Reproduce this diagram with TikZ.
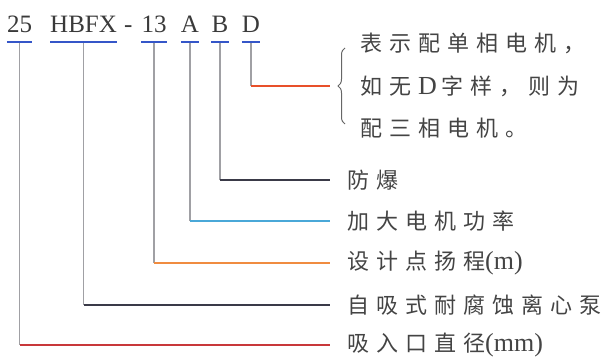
\documentclass[tikz,border=0pt]{standalone}
\usepackage{fontspec}
\setmainfont{Liberation Serif}
\newfontfamily\cjk{Noto Sans CJK SC}
\usetikzlibrary{decorations.pathreplacing}
\makeatletter
\newcommand\spc[1]{\spc@first#1\relax}
\def\spc@first#1{#1\spc@loop}
\def\spc@loop#1{\ifx\relax#1\else\hspace{7pt}#1\expandafter\spc@loop\fi}
\makeatother
\definecolor{codegray}{HTML}{3A3A3A}
\definecolor{txtgray}{HTML}{444444}
\definecolor{linegray}{HTML}{A0A0A4}
\definecolor{ublue}{HTML}{3556C8}
\definecolor{cred}{HTML}{C8383A}
\definecolor{cdark}{HTML}{3A3A48}
\definecolor{corange}{HTML}{F08C40}
\definecolor{cblue}{HTML}{4AA8D8}
\definecolor{cD}{HTML}{E8502A}
\definecolor{bracegray}{HTML}{666666}
\tikzset{
  code/.style={font=\fontsize{25}{25}\selectfont, text=codegray, inner sep=0pt, anchor=base},
  lab/.style={font=\cjk\fontsize{22}{22}\selectfont, text=txtgray, inner sep=0pt, anchor=west},
  latin/.style={font=\rmfamily\fontsize{26}{26}\selectfont},
  vline/.style={draw=linegray, line width=1.2pt},
  uline/.style={draw=ublue, line width=1.4pt},
  hline/.style={line width=1.4pt, shorten >=17pt}
}
\newcommand\lat[1]{{\rmfamily\fontsize{26}{26}\selectfont #1}}
\begin{document}
\begin{tikzpicture}[x=1pt,y=1pt]
\useasboundingbox (0,0) rectangle (607,-363);
% code parts
\node[code] (c25) at (19.5,-33) {25};
\node[code, anchor=base west] (cHB) at (50,-33) {HBFX};
\node[code, anchor=base west] (cdash) at (124,-33) {-};
\node[code] (c13) at (154,-33) {13};
\node[code] (cA) at (190,-33) {A};
\node[code] (cB) at (220,-33) {B};
\node[code] (cDD) at (251,-33) {D};
% underlines
\foreach \n in {c25,cHB,c13,cA,cB,cDD}{
  \draw[uline] ([yshift=-9pt]\n.base west) -- ([yshift=-9pt]\n.base east);
}
% labels
\node[lab] (lB)  at (347,-180) {\spc{防爆}};
\node[lab] (lA)  at (347,-221) {\spc{加大电机功率}};
\node[lab] (l13) at (347,-263) {\spc{设计点扬程}\lat{(m)}};
\node[lab] (lHB) at (347,-305) {\spc{自吸式耐腐蚀离心泵}};
\node[lab] (l25) at (347,-345) {\spc{吸入口直径}\lat{(mm)}};
% right text
\node[lab] (t1) at (360,-43) {\spc{表示配单相电机，}};
\node[lab] (t2) at (360,-86) {\spc{如无}\hspace{7pt}\lat{D}\hspace{5pt}\spc{字样，则为}};
\node[lab] (t3) at (360,-128) {\spc{配三相电机。}};
% brace
\draw[decorate, decoration={brace, amplitude=7pt}, draw=bracegray, line width=1pt] (345,-124) -- (345,-48);
\coordinate (btip) at (338,-86);
% connectors
\draw[vline] ([yshift=-10pt]c25.base) -- (c25.base |- l25.west);
\draw[hline, draw=cred] (c25.base |- l25.west) -- (l25.west);
\draw[vline] ([yshift=-10pt]cHB.base) -- (cHB.base |- lHB.west);
\draw[hline, draw=cdark] (cHB.base |- lHB.west) -- (lHB.west);
\draw[vline] ([yshift=-10pt]c13.base) -- (c13.base |- l13.west);
\draw[hline, draw=corange] (c13.base |- l13.west) -- (l13.west);
\draw[vline] ([yshift=-10pt]cA.base) -- (cA.base |- lA.west);
\draw[hline, draw=cblue] (cA.base |- lA.west) -- (lA.west);
\draw[vline] ([yshift=-10pt]cB.base) -- (cB.base |- lB.west);
\draw[hline, draw=cdark] (cB.base |- lB.west) -- (lB.west);
\draw[vline] ([yshift=-10pt]cDD.base) -- (cDD.base |- btip);
\draw[line width=1.4pt, draw=cD, shorten >=8pt] (cDD.base |- btip) -- (btip);
\end{tikzpicture}
\end{document}
